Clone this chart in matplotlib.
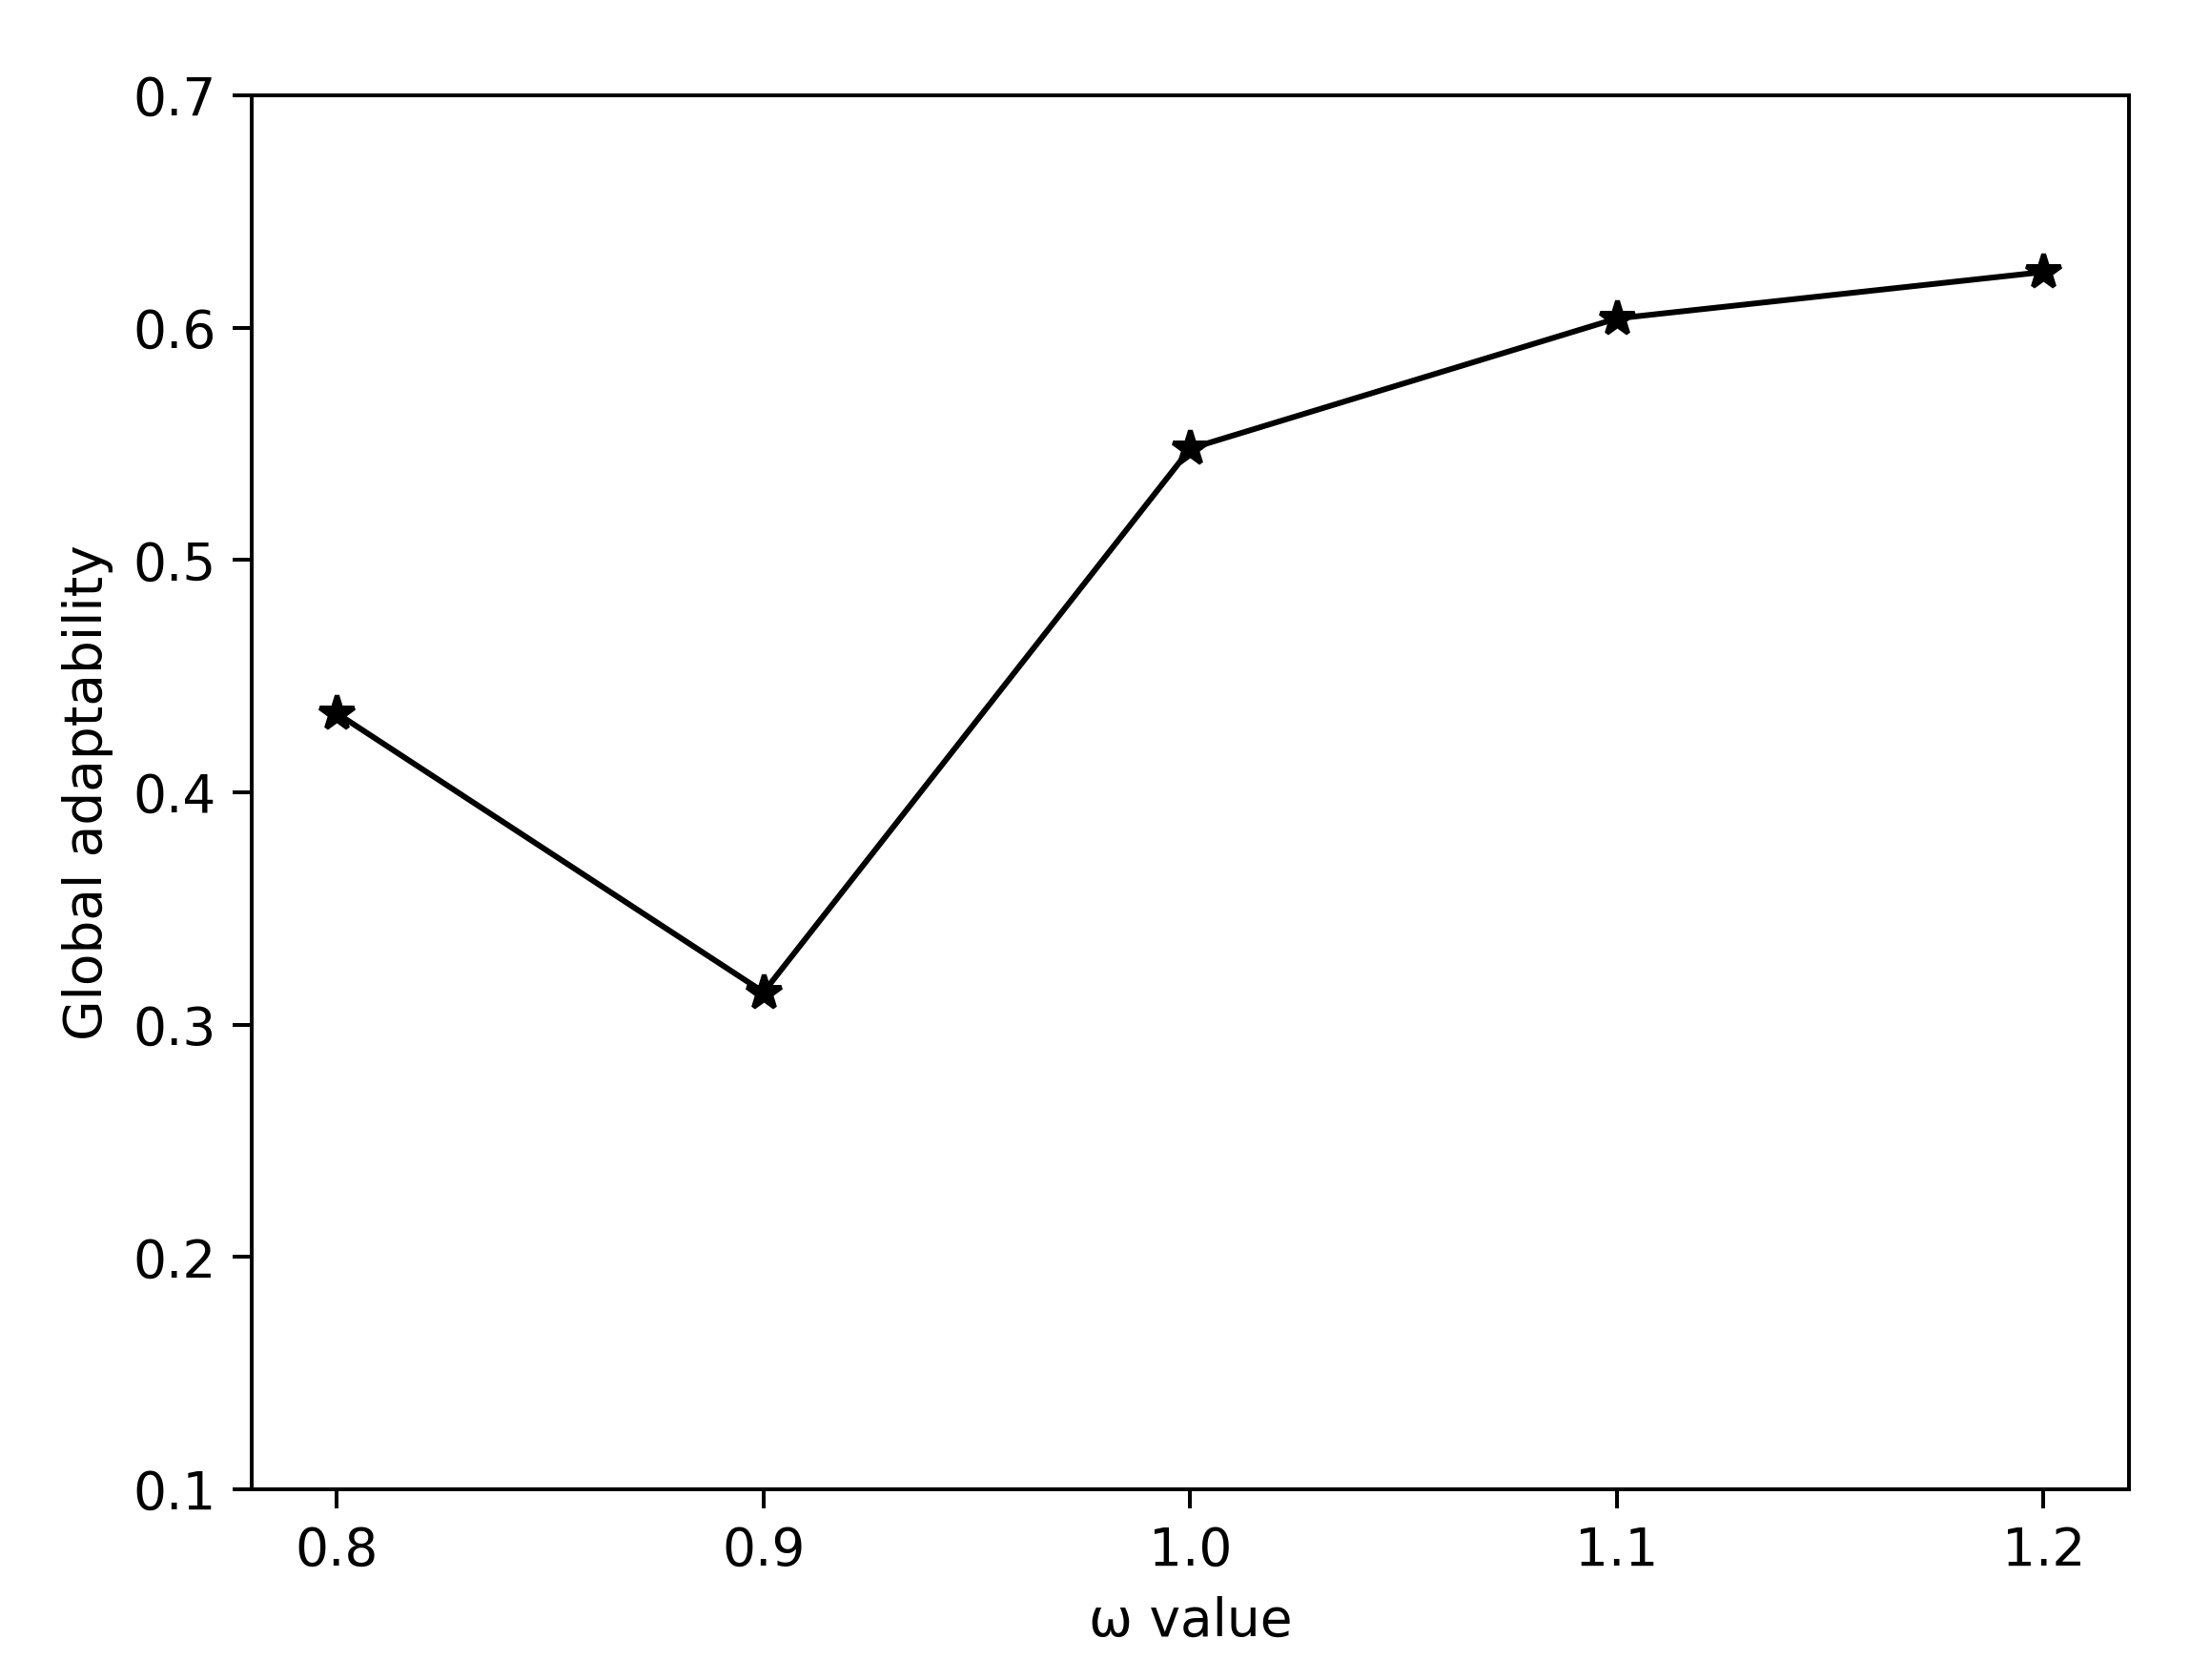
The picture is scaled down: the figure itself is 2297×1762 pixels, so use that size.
import matplotlib
matplotlib.use("Agg")
import matplotlib.pyplot as plt

# omega values and global adaptability
omega = [0.8, 0.9, 1.0, 1.1, 1.2]
adaptability = [0.434, 0.314, 0.548, 0.604, 0.624]

y_ticks = [0.1, 0.2, 0.3, 0.4, 0.5, 0.6, 0.7]


def main():
    plt.rcParams["font.size"] = 11
    plt.rcParams["xtick.major.size"] = 4
    plt.rcParams["ytick.major.size"] = 4

    dpi = 360
    fig = plt.figure(figsize=(2297 / dpi, 1762 / dpi), dpi=dpi)
    ax = fig.add_axes([0.1149, 0.1135, 0.9721 - 0.1149, 0.9432 - 0.1135])

    ax.plot(omega, adaptability, color="black", linewidth=1.2,
            marker="*", markersize=7.5)

    ax.set_ylim(0.1, 0.7)
    ax.set_yticks(y_ticks)
    ax.set_xticks(omega)
    ax.set_xlabel("ω value")
    ax.set_ylabel("Global adaptability")

    fig.savefig("out.png", dpi=dpi)


if __name__ == "__main__":
    main()
